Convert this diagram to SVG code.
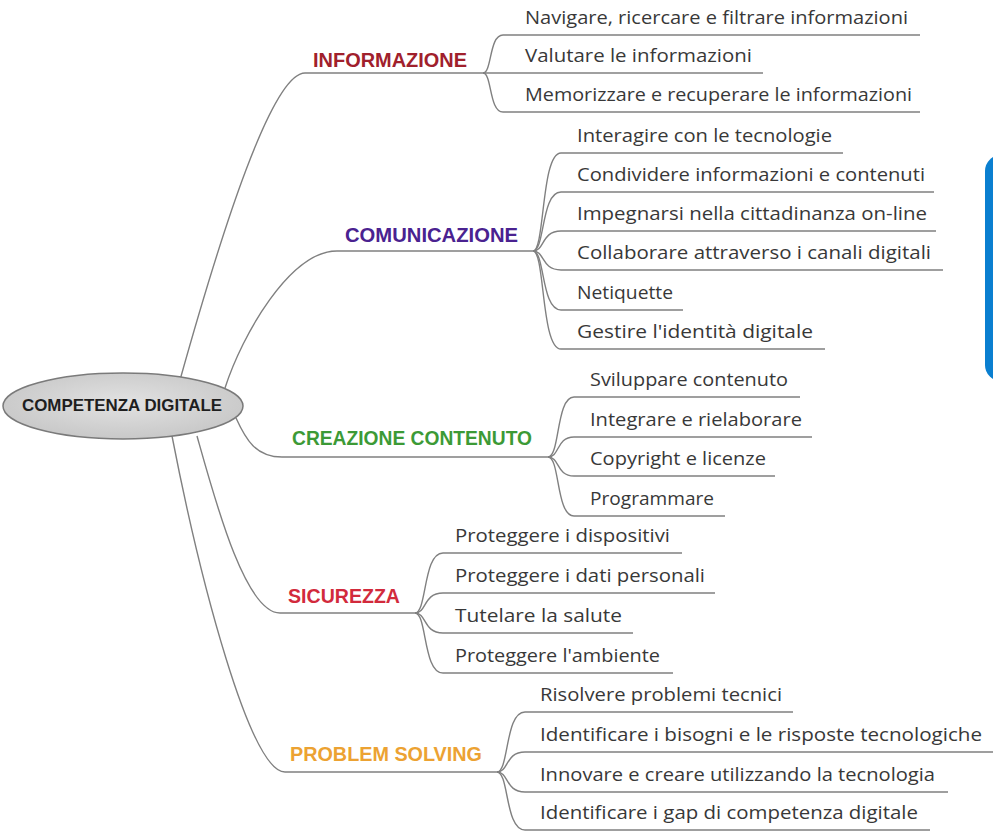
<svg xmlns="http://www.w3.org/2000/svg" width="993" height="832" viewBox="0 0 993 832">
<defs>
<radialGradient id="rootFill" cx="50%" cy="45%" r="60%">
<stop offset="0" stop-color="#e2e2e2"/>
<stop offset="1" stop-color="#c6c6c6"/>
</radialGradient>
</defs>
<style>
.c{fill:none;stroke:#808080;stroke-width:1.4}
.lbl{font-family:"Liberation Sans",Arial,sans-serif;font-weight:bold;font-size:20px}
.sub{font-family:"Open Sans","Noto Sans",sans-serif;font-size:18.5px;fill:#383838}
.root{font-family:"Liberation Sans",Arial,sans-serif;font-weight:bold;font-size:17px;fill:#1e1e1e}
</style>
<rect width="993" height="832" fill="#ffffff"/>
<g id="connectors">
<path class="c" d="M180,380 C222,230 272,73 305,73 H483"/>
<path class="c" d="M225,388 C242,335 290,251 337,251 H533"/>
<path class="c" d="M236,418 C246,440 256,457 282,457 H548"/>
<path class="c" d="M197,436 C215,500 245,613 280,613 H415"/>
<path class="c" d="M172,436 C200,580 250,772 285,772 H497"/>
<path class="c" d="M483,73 C492,73 489,35 503,35 H920"/>
<path class="c" d="M483,73 H763"/>
<path class="c" d="M483,73 C492,73 489,112 503,112 H920"/>
<path class="c" d="M533,251 C545,251 541,153 561,153 H843"/>
<path class="c" d="M533,251 C545,251 541,192 561,192 H934"/>
<path class="c" d="M533,251 C545,251 541,231 561,231 H936"/>
<path class="c" d="M533,251 C545,251 541,270 561,270 H943"/>
<path class="c" d="M533,251 C545,251 541,310 561,310 H683"/>
<path class="c" d="M533,251 C545,251 541,349 561,349 H825"/>
<path class="c" d="M548,457 C560,457 556,397 574,397 H800"/>
<path class="c" d="M548,457 C560,457 556,437 574,437 H812"/>
<path class="c" d="M548,457 C560,457 556,476 574,476 H775"/>
<path class="c" d="M548,457 C560,457 556,516 574,516 H725"/>
<path class="c" d="M415,613 C427,613 423,553 443,553 H682"/>
<path class="c" d="M415,613 C427,613 423,593 443,593 H715"/>
<path class="c" d="M415,613 C427,613 423,633 443,633 H633"/>
<path class="c" d="M415,613 C427,613 423,673 443,673 H673"/>
<path class="c" d="M497,772 C509,772 505,712 525,712 H793"/>
<path class="c" d="M497,772 C509,772 505,752 525,752 H993"/>
<path class="c" d="M497,772 C509,772 505,792 525,792 H948"/>
<path class="c" d="M497,772 C509,772 505,830 525,830 H930"/>
</g>
<g id="root">
<ellipse cx="123" cy="406" rx="120" ry="33" fill="url(#rootFill)" stroke="#7a7a7a" stroke-width="1.5"/>
<text class="root" x="22" y="411" textLength="200" lengthAdjust="spacingAndGlyphs">COMPETENZA DIGITALE</text>
</g>
<g id="informazione">
<text class="lbl" x="313" y="67" fill="#a0202c" textLength="154" lengthAdjust="spacingAndGlyphs">INFORMAZIONE</text>
</g>
<g id="informazione-items">
<text class="sub" x="525" y="24" textLength="383" lengthAdjust="spacingAndGlyphs">Navigare, ricercare e filtrare informazioni</text>
<text class="sub" x="525" y="62" textLength="227" lengthAdjust="spacingAndGlyphs">Valutare le informazioni</text>
<text class="sub" x="525" y="101" textLength="387" lengthAdjust="spacingAndGlyphs">Memorizzare e recuperare le informazioni</text>
</g>
<g id="comunicazione">
<text class="lbl" x="345" y="242" fill="#4a2290" textLength="173" lengthAdjust="spacingAndGlyphs">COMUNICAZIONE</text>
</g>
<g id="comunicazione-items">
<text class="sub" x="577" y="142" textLength="255" lengthAdjust="spacingAndGlyphs">Interagire con le tecnologie</text>
<text class="sub" x="577" y="181" textLength="348" lengthAdjust="spacingAndGlyphs">Condividere informazioni e contenuti</text>
<text class="sub" x="577" y="220" textLength="350" lengthAdjust="spacingAndGlyphs">Impegnarsi nella cittadinanza on-line</text>
<text class="sub" x="577" y="259" textLength="354" lengthAdjust="spacingAndGlyphs">Collaborare attraverso i canali digitali</text>
<text class="sub" x="577" y="299" textLength="96" lengthAdjust="spacingAndGlyphs">Netiquette</text>
<text class="sub" x="577" y="338" textLength="236" lengthAdjust="spacingAndGlyphs">Gestire l'identità digitale</text>
</g>
<g id="creazione">
<text class="lbl" x="292" y="445" fill="#3c9a36" textLength="240" lengthAdjust="spacingAndGlyphs">CREAZIONE CONTENUTO</text>
</g>
<g id="creazione-items">
<text class="sub" x="590" y="386" textLength="198" lengthAdjust="spacingAndGlyphs">Sviluppare contenuto</text>
<text class="sub" x="590" y="426" textLength="212" lengthAdjust="spacingAndGlyphs">Integrare e rielaborare</text>
<text class="sub" x="590" y="465" textLength="176" lengthAdjust="spacingAndGlyphs">Copyright e licenze</text>
<text class="sub" x="590" y="505" textLength="124" lengthAdjust="spacingAndGlyphs">Programmare</text>
</g>
<g id="sicurezza">
<text class="lbl" x="288" y="603" fill="#d22a3c" textLength="112" lengthAdjust="spacingAndGlyphs">SICUREZZA</text>
</g>
<g id="sicurezza-items">
<text class="sub" x="455" y="542" textLength="215" lengthAdjust="spacingAndGlyphs">Proteggere i dispositivi</text>
<text class="sub" x="455" y="582" textLength="250" lengthAdjust="spacingAndGlyphs">Proteggere i dati personali</text>
<text class="sub" x="455" y="622" textLength="167" lengthAdjust="spacingAndGlyphs">Tutelare la salute</text>
<text class="sub" x="455" y="662" textLength="205" lengthAdjust="spacingAndGlyphs">Proteggere l'ambiente</text>
</g>
<g id="problem-solving">
<text class="lbl" x="290" y="761" fill="#eca232" textLength="192" lengthAdjust="spacingAndGlyphs">PROBLEM SOLVING</text>
</g>
<g id="problem-solving-items">
<text class="sub" x="540" y="701" textLength="242" lengthAdjust="spacingAndGlyphs">Risolvere problemi tecnici</text>
<text class="sub" x="540" y="741" textLength="442" lengthAdjust="spacingAndGlyphs">Identificare i bisogni e le risposte tecnologiche</text>
<text class="sub" x="540" y="781" textLength="395" lengthAdjust="spacingAndGlyphs">Innovare e creare utilizzando la tecnologia</text>
<text class="sub" x="540" y="819" textLength="378" lengthAdjust="spacingAndGlyphs">Identificare i gap di competenza digitale</text>
</g>
<g id="side-shape">
<rect x="985" y="155" width="40" height="226" rx="16" fill="#0a7fd0"/>
</g>
</svg>
